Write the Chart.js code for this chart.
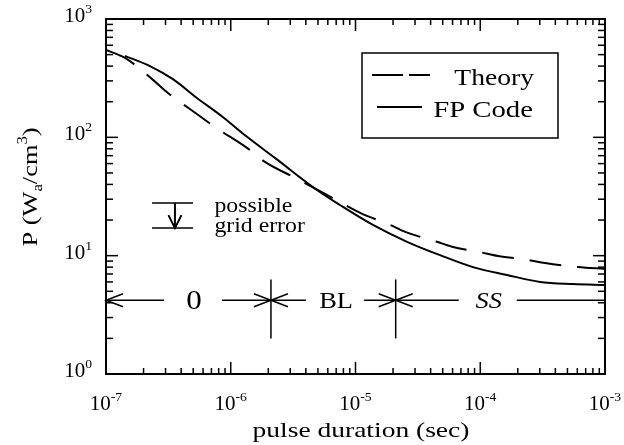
<!DOCTYPE html>
<html>
<head>
<meta charset="utf-8">
<script src="https://cdn.jsdelivr.net/npm/chart.js@4.4.1/dist/chart.umd.min.js"></script>
<style>
  html, body { margin: 0; padding: 0; background: #fff; }
</style>
</head>
<body>
<canvas id="chart" width="624" height="445"></canvas>
<script>
// Curves: pulse duration (sec) vs P (W_a/cm^3)
const theoryX = [1e-7, 1.42e-7, 2.38e-7, 3.14e-7, 5.46e-7, 7.48e-7, 1.35e-6, 1.88e-6, 3.28e-6, 5.9e-6,
  1.09e-5, 1.89e-5, 2.5e-5, 4.5e-5, 5.94e-5, 1e-4, 1.39e-4, 2.42e-4, 3.31e-4, 6.08e-4, 1e-3];
const theoryY = [548, 469, 306, 237, 155, 122, 81.4, 62, 45.4, 32.6,
  23.0, 18.2, 15.9, 13.1, 11.9, 10.7, 9.94, 9.2, 8.67, 8.02, 7.72];

const fpCodeX = [1.42e-7, 2.25e-7, 3.44e-7, 5.36e-7, 8.67e-7, 1.35e-6, 2.26e-6, 4.91e-6, 7.51e-6,
  1.38e-5, 2.59e-5, 4.76e-5, 8.75e-5, 1.64e-4, 3.01e-4, 5.54e-4, 1e-3];
const fpCodeY = [488, 400, 310, 215, 148, 101, 67, 35.9, 26.8,
  18.2, 13.1, 10.1, 8.0, 6.87, 6.0, 5.76, 5.65];

// Axis decades (powers of ten)
const xTickExponents = [-7, -6, -5, -4, -3];
const yTickExponents = [0, 1, 2, 3];
const minorMultiples = [2, 3, 4, 5, 6, 7, 8, 9];

// Regime markers along the bottom of the plot
const regimeBounds = [2.1e-6, 2.1e-5];
const regimeLabels = ['0', 'BL', 'SS'];
const regimeLabelX = [5.08e-7, 6.98e-6, 1.17e-4];
const regimeLevel = 4.2;
const regimeSpan = [2.0, 6.3];

// "possible grid error" marker
const gridErrorLevels = [27.9, 17.1];
const gridErrorX = [2.34e-7, 3.57e-7, 4.98e-7];
const gridErrorTextX = 7.4e-7;
const gridErrorTextY = [23.4, 15.9];
const gridErrorText = ['possible', 'grid error'];

const legendLabels = ['Theory', 'FP Code'];

const SERIF = "'Liberation Serif', 'Times New Roman', serif";

// Draw text with a horizontal stretch (the scanned lettering is wide)
const drawText = (ctx, str, x, y, size, { align = 'left', stretch = 1, italic = false } = {}) => {
  ctx.save();
  ctx.font = `${italic ? 'italic ' : ''}${size}px ${SERIF}`;
  ctx.textBaseline = 'alphabetic';
  ctx.textAlign = 'left';
  const w = ctx.measureText(str).width * stretch;
  let left = x;
  if (align === 'center') left = x - w / 2;
  else if (align === 'right') left = x - w;
  ctx.translate(left, y);
  ctx.scale(stretch, 1);
  ctx.fillText(str, 0, 0);
  ctx.restore();
  return w;
};

const textWidth = (ctx, str, size, stretch = 1) => {
  ctx.save();
  ctx.font = `${size}px ${SERIF}`;
  const w = ctx.measureText(str).width * stretch;
  ctx.restore();
  return w;
};

// "10" with a raised exponent
const drawPower = (ctx, exp, x, y, align) => {
  const base = '10', sup = String(exp);
  const wb = textWidth(ctx, base, 20, 1.05);
  const ws = textWidth(ctx, sup, 13, 1.05);
  const total = wb + ws;
  let left = x;
  if (align === 'center') left = x - total / 2;
  else if (align === 'right') left = x - total;
  drawText(ctx, base, left, y, 20, { stretch: 1.05 });
  drawText(ctx, sup, left + wb, y - 9, 13, { stretch: 1.05 });
};

const line = (ctx, x1, y1, x2, y2) => {
  ctx.beginPath();
  ctx.moveTo(x1, y1);
  ctx.lineTo(x2, y2);
  ctx.stroke();
};

// Open "V" arrowhead with tip at (x, y) pointing along (dx, dy)
const arrowHead = (ctx, x, y, dx, dy, len = 17, half = 6.5) => {
  const px = -dy, py = dx;
  ctx.beginPath();
  ctx.moveTo(x - dx * len + px * half, y - dy * len + py * half);
  ctx.lineTo(x, y);
  ctx.lineTo(x - dx * len - px * half, y - dy * len - py * half);
  ctx.stroke();
};

const framePlugin = {
  id: 'frame',
  afterDatasetsDraw(chart) {
    const { ctx, chartArea: a, scales: { x, y } } = chart;
    ctx.save();
    ctx.strokeStyle = '#000';
    ctx.fillStyle = '#000';
    ctx.lineCap = 'butt';

    // box
    ctx.lineWidth = 2;
    ctx.strokeRect(a.left, a.top, a.right - a.left, a.bottom - a.top);

    // ticks on all four sides, pointing inward
    ctx.lineWidth = 1.5;
    xTickExponents.forEach((e, i) => {
      const px = x.getPixelForValue(Math.pow(10, e));
      line(ctx, px, a.bottom, px, a.bottom - 12);
      line(ctx, px, a.top, px, a.top + 12);
      if (i < xTickExponents.length - 1) {
        minorMultiples.forEach(m => {
          const mx = x.getPixelForValue(m * Math.pow(10, e));
          line(ctx, mx, a.bottom, mx, a.bottom - 6);
          line(ctx, mx, a.top, mx, a.top + 6);
        });
      }
      drawPower(ctx, '-' + Math.abs(e), px, 410, 'center');
    });
    yTickExponents.forEach((e, i) => {
      const py = y.getPixelForValue(Math.pow(10, e));
      line(ctx, a.left, py, a.left + 12, py);
      line(ctx, a.right, py, a.right - 12, py);
      if (i < yTickExponents.length - 1) {
        minorMultiples.forEach(m => {
          const my = y.getPixelForValue(m * Math.pow(10, e));
          line(ctx, a.left, my, a.left + 7, my);
          line(ctx, a.right, my, a.right - 7, my);
        });
      }
      drawPower(ctx, e, 92, py + 3, 'right');
    });

    // axis titles
    drawText(ctx, 'pulse duration (sec)', 361, 437, 22, { align: 'center', stretch: 1.25 });

    ctx.save();
    ctx.translate(37, 187);
    ctx.rotate(-Math.PI / 2);
    const parts = [['P (W', 22, 0], ['a', 14, 5], ['/cm', 22, 0], ['3', 14, -10], [')', 22, 0]];
    const total = parts.reduce((s, p) => s + textWidth(ctx, p[0], p[1], 1.2), 0);
    let cx = -total / 2;
    parts.forEach(([s, size, dy]) => {
      cx += drawText(ctx, s, cx, dy, size, { stretch: 1.2 });
    });
    ctx.restore();

    // legend
    ctx.lineWidth = 1.5;
    ctx.strokeRect(362, 53, 196, 85);
    ctx.lineWidth = 2;
    ctx.setLineDash([31, 6]);
    line(ctx, 372, 75, 430, 75);
    ctx.setLineDash([]);
    line(ctx, 377, 107, 422, 107);
    drawText(ctx, legendLabels[0], 534, 85, 23, { align: 'right', stretch: 1.2 });
    drawText(ctx, legendLabels[1], 533, 117, 23, { align: 'right', stretch: 1.25 });

    // regime arrows
    ctx.lineWidth = 1.5;
    const ly = y.getPixelForValue(regimeLevel);
    const bounds = [a.left, ...regimeBounds.map(v => x.getPixelForValue(v)), a.right];
    regimeBounds.forEach(v => {
      const bx = x.getPixelForValue(v);
      line(ctx, bx, y.getPixelForValue(regimeSpan[1]), bx, y.getPixelForValue(regimeSpan[0]));
    });
    regimeLabels.forEach((lab, i) => {
      const cxl = x.getPixelForValue(regimeLabelX[i]);
      const l = bounds[i], r = bounds[i + 1];
      line(ctx, l, ly, cxl - 30, ly);
      line(ctx, cxl + 28, ly, r, ly);
      arrowHead(ctx, l, ly, -1, 0);
      if (i < regimeLabels.length - 1) arrowHead(ctx, r, ly, 1, 0);
      if (lab === '0') drawText(ctx, lab, cxl, ly + 9, 27, { align: 'center', stretch: 1.15 });
      else drawText(ctx, lab, cxl, ly + 8, 24, { align: 'center', stretch: 1.1, italic: lab === 'SS' });
    });

    // possible grid error marker
    const gTop = y.getPixelForValue(gridErrorLevels[0]);
    const gBot = y.getPixelForValue(gridErrorLevels[1]);
    const gl = x.getPixelForValue(gridErrorX[0]);
    const gm = x.getPixelForValue(gridErrorX[1]);
    const gr = x.getPixelForValue(gridErrorX[2]);
    line(ctx, gl, gTop, gr, gTop);
    line(ctx, gl, gBot, gr, gBot);
    ctx.lineWidth = 2;
    line(ctx, gm, gTop, gm, gBot);
    arrowHead(ctx, gm, gBot, 0, 1, 13, 6.5);
    const tx = x.getPixelForValue(gridErrorTextX);
    gridErrorText.forEach((t, i) => {
      drawText(ctx, t, tx, y.getPixelForValue(gridErrorTextY[i]), 22, { stretch: 1.08 });
    });

    ctx.restore();
  }
};

const toPoints = (xs, ys) => xs.map((v, i) => ({ x: v, y: ys[i] }));

const chart = new Chart(document.getElementById('chart').getContext('2d'), {
  type: 'line',
  data: {
    datasets: [
      {
        label: legendLabels[0],
        data: toPoints(theoryX, theoryY),
        borderColor: '#000',
        borderWidth: 2,
        borderDash: [32, 16],
        pointRadius: 0,
        cubicInterpolationMode: 'monotone',
        fill: false
      },
      {
        label: legendLabels[1],
        data: toPoints(fpCodeX, fpCodeY),
        borderColor: '#000',
        borderWidth: 2,
        pointRadius: 0,
        cubicInterpolationMode: 'monotone',
        fill: false
      }
    ]
  },
  options: {
    responsive: false,
    animation: false,
    devicePixelRatio: 1,
    layout: { padding: { left: 106, top: 19, right: 19, bottom: 71 } },
    scales: {
      x: { type: 'logarithmic', min: 1e-7, max: 1e-3, display: false },
      y: { type: 'logarithmic', min: 1, max: 1000, display: false }
    },
    plugins: {
      legend: { display: false },
      tooltip: { enabled: false }
    }
  },
  plugins: [framePlugin]
});
</script>
</body>
</html>
